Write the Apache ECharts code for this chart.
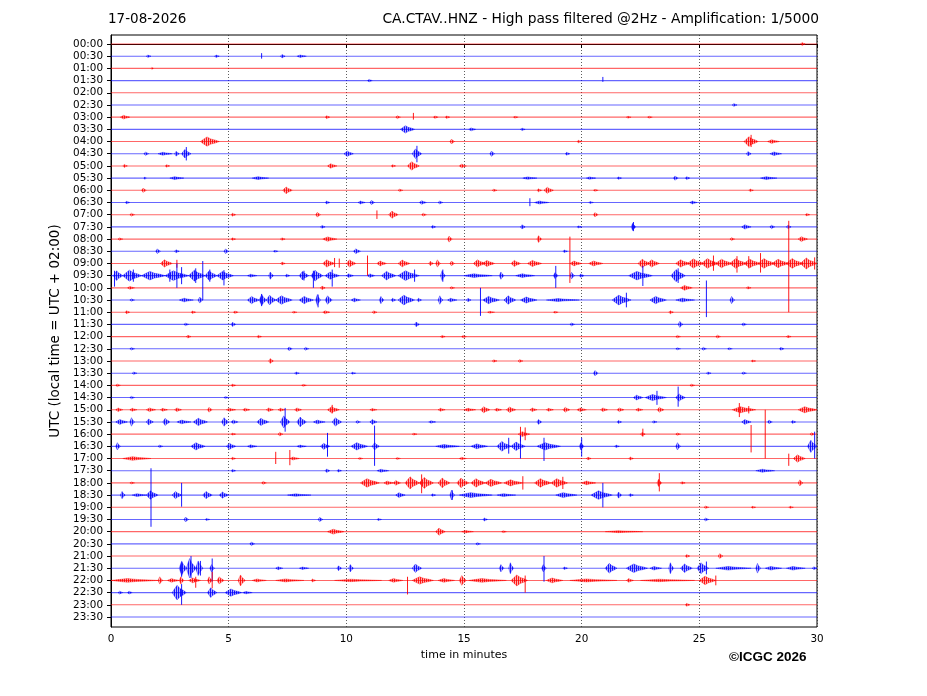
<!DOCTYPE html>
<html><head><meta charset="utf-8">
<script src="https://cdn.jsdelivr.net/npm/echarts@6/dist/echarts.min.js"></script>
<style>html,body{margin:0;padding:0;background:#fff}#c{width:927px;height:696px}</style>
</head><body><div id="c"></div><script>
const dateText = '17-08-2026';
const titleText = 'CA.CTAV..HNZ - High pass filtered @2Hz - Amplification: 1/5000';
const timeLabels = ['00:00','00:30','01:00','01:30','02:00','02:30','03:00','03:30','04:00','04:30','05:00','05:30',
  '06:00','06:30','07:00','07:30','08:00','08:30','09:00','09:30','10:00','10:30','11:00','11:30',
  '12:00','12:30','13:00','13:30','14:00','14:30','15:00','15:30','16:00','16:30','17:00','17:30',
  '18:00','18:30','19:00','19:30','20:00','20:30','21:00','21:30','22:00','22:30','23:00','23:30'];
const xTicks = [0, 5, 10, 15, 20, 25, 30];
const rowColors = ['#ff0000', '#0000ff'];

// bursts: [row, start minute, end minute, half amplitude (rows)]
const bursts = [
[0,29.3,29.5,0.12],
[1,1.5,1.7,0.1],[1,4.4,4.6,0.1],[1,7.2,7.4,0.15],[1,7.9,8.3,0.1],
[2,1.7,1.8,0.08],
[3,10.9,11.1,0.1],
[5,26.4,26.6,0.12],
[6,0.4,0.8,0.15],[6,9.1,9.3,0.12],[6,12.1,12.3,0.12],[6,13.7,13.9,0.1],[6,14.2,14.4,0.1],[6,17.1,17.3,0.08],[6,21.9,22.1,0.08],[6,22.8,23.0,0.08],
[7,12.3,12.9,0.3],[7,15.2,15.5,0.12],[7,17.4,17.6,0.1],
[8,3.8,4.6,0.38],[8,14.4,14.6,0.2],[8,19.8,20.0,0.1],[8,26.9,27.5,0.4],[8,27.9,28.4,0.15],
[9,1.4,1.6,0.15],[9,2.0,2.6,0.12],[9,2.7,2.9,0.2],[9,3.0,3.4,0.35],[9,9.9,10.3,0.22],[9,12.8,13.2,0.4],[9,16.1,16.3,0.22],[9,19.3,19.5,0.12],[9,27.0,27.2,0.18],[9,28.0,28.5,0.15],
[10,0.5,0.7,0.12],[10,2.3,2.5,0.1],[10,9.2,9.6,0.18],[10,11.9,12.1,0.1],[10,12.6,13.1,0.35],[10,14.8,15.1,0.15],
[11,1.4,1.5,0.1],[11,2.5,3.1,0.12],[11,6.0,6.7,0.12],[11,17.5,18.1,0.1],[11,20.2,20.6,0.1],[11,21.5,21.7,0.1],[11,23.9,24.1,0.18],[11,24.4,24.6,0.12],[11,27.6,28.3,0.12],
[12,1.3,1.5,0.18],[12,7.3,7.7,0.28],[12,12.2,12.4,0.1],[12,16.2,16.4,0.1],[12,18.1,18.3,0.12],[12,18.4,18.8,0.25],[12,20.5,20.7,0.08],[12,27.1,27.3,0.1],
[13,0.6,0.8,0.1],[13,9.1,9.3,0.12],[13,10.5,10.8,0.12],[13,11.0,11.2,0.18],[13,13.1,13.4,0.15],[13,13.9,14.1,0.12],[13,18.0,18.6,0.12],[13,20.3,20.5,0.08],[13,24.6,24.9,0.12],
[14,0.8,1.0,0.12],[14,5.1,5.3,0.12],[14,8.7,8.9,0.2],[14,11.8,12.2,0.3],[14,13.2,13.4,0.12],[14,20.5,20.7,0.18],[14,29.5,29.7,0.1],
[15,8.9,9.1,0.12],[15,13.6,13.8,0.12],[15,17.4,17.6,0.18],[15,19.8,20.0,0.08],[15,22.1,22.3,0.3],[15,26.8,27.2,0.18],[15,28.0,28.2,0.15],[15,28.7,28.9,0.15],
[16,0.3,0.5,0.1],[16,5.1,5.3,0.1],[16,7.2,7.4,0.1],[16,9.0,9.6,0.18],[16,14.3,14.5,0.25],[16,18.1,18.3,0.28],[16,26.3,26.5,0.12],[16,29.2,29.6,0.2],
[17,1.9,2.1,0.2],[17,2.7,2.9,0.12],[17,4.8,5.0,0.2],[17,6.9,7.1,0.08],[17,10.3,10.6,0.2],[17,19.2,19.4,0.1],
[18,2.1,2.6,0.3],[18,7.2,7.4,0.12],[18,9.0,9.5,0.3],[18,10.0,10.4,0.3],[18,11.3,11.7,0.2],[18,12.2,12.7,0.28],[18,13.5,13.7,0.18],[18,13.8,14.0,0.3],[18,14.4,14.6,0.2],[18,15.4,15.9,0.3],[18,15.8,16.3,0.25],[18,17.0,17.4,0.25],[18,17.7,18.3,0.25],[18,19.5,20.0,0.2],[18,20.3,20.9,0.2],[18,22.4,22.9,0.35],[18,22.8,23.3,0.3],
[18,24.0,24.6,0.3],[18,24.5,25.2,0.38],[18,25.1,25.8,0.4],[18,25.7,26.4,0.35],[18,26.3,27.0,0.4],[18,26.9,27.6,0.35],[18,27.5,28.2,0.4],[18,28.1,28.8,0.35],[18,28.7,29.4,0.4],[18,29.3,30.0,0.45],
[19,0.1,0.5,0.4],[19,0.5,1.3,0.45],[19,1.3,2.3,0.35],[19,2.3,3.3,0.4],[19,3.3,4.0,0.45],[19,4.0,4.5,0.4],[19,4.5,5.2,0.35],[19,5.8,6.2,0.12],[19,6.7,6.9,0.3],[19,7.4,7.6,0.12],[19,8.0,8.4,0.35],[19,8.5,9.0,0.45],[19,9.1,9.7,0.3],[19,10.0,10.3,0.15],[19,10.9,11.2,0.15],[19,11.5,12.1,0.35],[19,12.2,13.1,0.4],[19,14.0,14.2,0.4],[19,15.0,16.2,0.15],[19,16.5,16.7,0.3],[19,17.2,18.0,0.15],[19,18.8,19.0,0.25],[19,19.5,19.7,0.28],[19,19.9,20.1,0.15],[19,22.0,23.0,0.35],[19,23.8,24.4,0.5],
[20,0.7,1.0,0.12],[20,8.9,9.1,0.15],[20,14.4,14.6,0.1],[20,24.2,24.7,0.2],[20,27.0,27.2,0.1],
[21,0.8,1.0,0.1],[21,2.9,3.5,0.15],[21,3.7,3.9,0.25],[21,5.8,6.3,0.3],[21,6.3,6.6,0.45],[21,6.6,7.0,0.4],[21,7.0,7.7,0.35],[21,8.0,8.6,0.3],[21,8.7,8.9,0.45],[21,9.1,9.4,0.35],[21,10.2,10.6,0.15],[21,11.4,11.6,0.3],[21,11.9,12.1,0.15],[21,12.2,12.9,0.4],[21,13.0,13.2,0.15],[21,13.9,14.1,0.35],[21,14.3,14.7,0.15],[21,15.1,15.3,0.15],[21,15.8,16.5,0.3],[21,16.7,17.2,0.35],[21,17.4,18.1,0.25],[21,18.5,19.9,0.12],[21,21.3,22.1,0.4],[21,22.9,23.6,0.3],[21,24.0,24.8,0.15],[21,26.3,26.5,0.3],
[22,0.6,0.8,0.12],[22,3.4,3.6,0.1],[22,5.2,5.4,0.1],[22,7.7,7.9,0.08],[22,9.0,9.3,0.12],[22,11.1,11.3,0.12],[22,16.0,16.3,0.08],[22,18.8,19.0,0.08],[22,23.7,23.9,0.12],
[23,3.1,3.3,0.1],[23,5.1,5.3,0.18],[23,12.9,13.1,0.2],[23,19.5,19.7,0.12],[23,24.1,24.3,0.25],[23,26.8,27.0,0.12],
[24,3.2,3.4,0.12],[24,6.2,6.4,0.1],[24,14.0,14.2,0.1],[24,14.9,15.1,0.1],[24,24.0,24.2,0.1],[24,25.7,25.9,0.12],[24,28.7,28.9,0.1],
[25,0.8,1.0,0.1],[25,7.5,7.7,0.15],[25,8.2,8.4,0.12],[25,24.0,24.2,0.08],[25,25.1,25.3,0.12],[25,26.2,26.4,0.08],[25,28.4,28.6,0.12],
[26,6.7,6.9,0.2],[26,16.2,16.4,0.1],[26,17.3,17.5,0.12],[26,27.2,27.4,0.08],
[27,0.9,1.1,0.1],[27,7.8,8.0,0.1],[27,10.2,10.4,0.08],[27,20.5,20.7,0.22],[27,25.3,25.5,0.1],[27,26.8,27.0,0.1],
[28,0.2,0.4,0.1],[28,5.1,5.3,0.1],[28,8.1,8.3,0.08],[28,24.6,24.8,0.1],
[29,0.8,1.0,0.1],[29,4.8,5.0,0.08],[29,22.2,22.6,0.2],[29,22.7,23.6,0.25],[29,24.0,24.4,0.3],
[30,0.2,0.5,0.15],[30,0.8,1.1,0.12],[30,1.5,1.9,0.15],[30,2.1,2.4,0.12],[30,2.7,3.0,0.15],[30,4.1,4.3,0.2],[30,4.9,5.3,0.12],[30,5.6,5.9,0.12],[30,6.6,6.9,0.15],[30,7.1,7.4,0.12],[30,7.8,8.1,0.15],[30,9.2,9.7,0.25],[30,11.0,11.3,0.1],[30,13.9,14.2,0.12],[30,15.0,15.5,0.12],[30,15.7,16.1,0.25],[30,16.3,16.6,0.12],[30,16.8,17.2,0.22],[30,17.8,18.1,0.15],[30,18.5,18.8,0.12],[30,19.2,19.5,0.2],[30,19.8,20.2,0.15],[30,20.8,21.1,0.15],[30,21.5,21.8,0.15],[30,22.3,22.6,0.12],[30,23.2,23.5,0.2],[30,26.4,27.4,0.25],[30,29.2,30.0,0.25],
[31,0.2,0.7,0.2],[31,0.8,1.0,0.35],[31,1.5,1.8,0.25],[31,2.2,2.5,0.3],[31,2.8,3.4,0.15],[31,3.5,4.1,0.3],[31,4.7,5.0,0.35],[31,5.1,5.4,0.15],[31,6.2,6.7,0.3],[31,7.2,7.6,0.5],[31,7.9,8.3,0.4],[31,8.6,9.1,0.15],[31,9.4,9.8,0.35],[31,10.4,10.6,0.12],[31,11.0,11.3,0.2],[31,13.5,13.8,0.1],[31,18.1,18.3,0.2],[31,21.5,21.7,0.12],[31,23.0,23.2,0.1],[31,26.8,27.2,0.2],[31,27.9,28.1,0.15],[31,28.9,29.1,0.12],
[32,5.1,5.3,0.08],[32,7.1,7.3,0.15],[32,12.8,13.0,0.08],[32,17.3,17.8,0.2],[32,22.5,22.7,0.15],[32,24.0,24.2,0.1],[32,29.7,29.9,0.12],
[33,0.2,0.4,0.3],[33,2.0,2.2,0.1],[33,3.4,4.0,0.3],[33,4.9,5.3,0.25],[33,5.8,6.2,0.12],[33,7.9,8.3,0.1],[33,8.9,9.3,0.25],[33,10.2,10.9,0.3],[33,11.1,11.4,0.3],[33,13.8,14.8,0.15],[33,15.3,16.0,0.2],[33,16.4,17.0,0.4],[33,17.0,17.6,0.35],[33,18.1,19.1,0.3],[33,19.9,20.1,0.3],[33,21.4,21.6,0.1],[33,24.0,24.2,0.3],[33,29.6,30.0,0.5],
[34,0.5,1.7,0.15],[34,5.1,5.3,0.1],[34,7.6,8.0,0.12],[34,10.5,10.7,0.08],[34,12.1,12.3,0.08],[34,14.8,15.1,0.1],[34,20.2,20.4,0.12],[34,22.0,22.2,0.12],[34,29.0,29.5,0.3],
[35,5.1,5.3,0.1],[35,9.1,9.3,0.15],[35,9.6,9.8,0.1],[35,11.3,11.8,0.12],[35,27.4,28.2,0.12],
[36,0.8,1.0,0.08],[36,6.4,6.6,0.12],[36,10.6,11.4,0.35],[36,11.6,12.0,0.15],[36,12.0,12.3,0.2],[36,12.5,13.1,0.5],[36,13.1,13.7,0.45],[36,13.9,14.4,0.4],[36,14.7,15.2,0.4],[36,15.3,15.9,0.35],[36,15.9,16.6,0.3],[36,16.7,17.5,0.25],[36,18.0,18.7,0.35],[36,18.7,19.4,0.35],[36,20.0,20.6,0.15],[36,23.2,23.4,0.3],[36,24.2,24.4,0.1],[36,29.2,29.4,0.25],
[37,0.4,0.6,0.3],[37,0.9,1.5,0.12],[37,1.5,2.0,0.35],[37,2.6,3.0,0.3],[37,3.9,4.3,0.3],[37,4.6,5.0,0.25],[37,7.5,8.5,0.1],[37,12.1,12.5,0.2],[37,13.6,13.8,0.1],[37,14.4,14.6,0.4],[37,14.8,16.2,0.2],[37,16.4,17.2,0.12],[37,18.9,19.8,0.2],[37,20.4,21.3,0.35],[37,21.5,21.7,0.25],[37,22.0,22.2,0.12],
[38,25.2,25.4,0.1],[38,27.2,27.4,0.08],[38,28.8,29.0,0.08],
[39,3.1,3.3,0.2],[39,4.0,4.2,0.08],[39,8.8,9.0,0.18],[39,11.3,11.5,0.08],[39,15.8,16.0,0.12],[39,25.2,25.4,0.12],
[40,9.2,9.9,0.2],[40,13.8,14.2,0.3],[40,14.9,15.4,0.1],[40,16.6,16.8,0.08],[40,21.0,22.6,0.08],
[41,5.9,6.1,0.15],[41,15.5,15.7,0.1],
[42,24.4,24.6,0.12],[42,25.8,26.0,0.2],
[43,2.9,3.2,0.6],[43,3.2,3.6,0.8],[43,3.6,3.9,0.6],[43,4.2,4.4,0.3],[43,7.0,7.3,0.12],[43,8.0,8.4,0.1],[43,9.6,9.8,0.2],[43,10.1,10.3,0.3],[43,12.8,13.2,0.35],[43,16.5,16.7,0.3],[43,16.9,17.1,0.45],[43,18.3,18.5,0.3],[43,19.2,19.4,0.1],[43,21.0,21.5,0.4],[43,21.9,22.8,0.35],[43,22.9,23.4,0.15],[43,23.7,23.9,0.45],[43,24.2,24.7,0.35],[43,24.9,25.4,0.45],[43,25.7,27.2,0.15],[43,27.4,27.6,0.4],[43,27.8,28.5,0.15],[43,28.7,29.5,0.15],[43,29.8,30.0,0.12],
[44,0.0,2.0,0.15],[44,2.0,2.2,0.3],[44,2.4,2.9,0.15],[44,2.9,3.1,0.3],[44,3.3,3.8,0.2],[44,4.1,4.3,0.3],[44,4.5,4.8,0.3],[44,5.4,5.7,0.45],[44,6.0,6.6,0.12],[44,7.0,8.2,0.12],[44,8.5,8.7,0.12],[44,9.5,11.5,0.1],[44,11.8,12.4,0.15],[44,12.8,13.7,0.3],[44,13.9,14.6,0.15],[44,14.8,15.1,0.4],[44,15.2,16.8,0.15],[44,17.0,17.7,0.45],[44,18.5,19.2,0.2],[44,19.5,21.5,0.12],[44,21.9,22.2,0.15],[44,22.5,24.8,0.1],[44,25.0,25.7,0.35],
[45,0.3,0.5,0.12],[45,0.7,0.9,0.12],[45,2.6,3.2,0.6],[45,4.1,4.5,0.4],[45,4.85,5.55,0.3],[45,5.6,6.0,0.1],
[46,24.4,24.6,0.12]
];

// spikes: [row, minute, extent up (rows), extent down (rows)]
const spikes = [
[1,6.4,0.25,0.2],
[3,20.9,0.3,0.1],
[6,12.85,0.35,0.2],
[8,27.2,0.55,0.45],
[9,3.2,0.55,0.55],[9,13.0,0.65,0.7],
[13,17.8,0.35,0.3],
[14,11.3,0.35,0.35],
[15,22.2,0.4,0.35],
[18,2.8,0.3,0.35],[18,9.5,0.45,0.3],[18,9.7,0.4,0.35],[18,10.9,0.65,1.0],[18,19.5,2.2,1.6],[18,25.6,0.65,0.6],[18,26.6,0.6,0.75],[18,27.1,0.6,0.4],[18,27.6,0.85,0.75],[18,28.8,3.5,4.0],[18,29.9,0.5,0.5],
[19,0.15,0.4,0.9],[19,0.95,0.5,0.5],[19,2.5,0.5,0.5],[19,2.8,1.0,1.0],[19,3.0,0.7,0.7],[19,3.6,0.6,0.6],[19,3.9,1.2,2.0],[19,4.2,0.5,0.5],[19,4.8,0.45,0.8],[19,8.2,0.4,0.4],[19,8.6,0.4,1.0],[19,9.4,0.5,0.9],[19,12.9,0.5,0.5],[19,14.1,0.5,0.5],[19,18.9,0.8,1.0],[19,22.6,0.8,0.85],[19,24.1,0.6,0.6],
[21,6.4,0.5,0.5],[21,8.8,0.45,0.6],[21,15.7,1.0,1.3],[21,21.9,0.6,0.6],[21,25.3,1.6,1.4],
[29,23.2,0.55,0.6],[29,24.1,0.9,0.75],
[30,9.4,0.4,0.3],[30,26.7,0.55,0.6],[30,27.1,0.3,0.3],
[31,7.4,1.15,0.8],
[32,17.4,0.6,0.6],[32,17.6,0.55,0.5],[32,22.6,0.45,0.2],[32,27.2,0.75,1.5],[32,27.8,2.0,2.0],
[33,9.2,1.1,0.85],[33,11.2,1.7,1.6],[33,16.9,0.7,0.6],[33,17.4,0.9,1.0],[33,18.4,0.7,1.2],[33,20.0,0.7,0.85],[33,29.9,1.2,1.0],
[34,7.0,0.55,0.45],[34,7.6,0.7,0.55],[34,28.8,0.4,0.6],
[36,13.2,0.7,0.85],[36,17.5,0.55,0.55],[36,19.2,0.5,0.5],[36,23.3,0.8,0.7],
[37,1.7,2.2,2.6],[37,3.0,1.0,0.95],[37,14.5,0.4,0.4],[37,20.9,1.0,1.0],
[43,3.0,0.5,0.7],[43,3.4,1.0,0.8],[43,3.8,0.6,0.6],[43,4.3,0.8,1.1],[43,18.4,1.0,1.1],[43,25.3,0.55,0.5],
[44,3.6,0.3,0.6],[44,4.3,0.7,0.65],[44,12.6,0.3,1.15],[44,17.6,0.4,1.0],[44,25.7,0.4,0.4],
[45,3.0,0.7,1.0]
];

const rows = timeLabels.map((_, i) => [i]);
const rowIdx = timeLabels.map((_, i) => i);
function colorOf(r) { return rowColors[r % 2]; }

// vertical hatch pattern (visual texture of dense waveform oscillation)
function hatch(color) {
  const cv = document.createElement('canvas');
  cv.width = 2; cv.height = 2;
  const g = cv.getContext('2d');
  g.globalAlpha = 1; g.fillStyle = color; g.fillRect(0, 0, 1, 2);
  g.globalAlpha = 0.35; g.fillRect(1, 0, 1, 2);
  return {image: cv, repeat: 'repeat'};
}
const hatchFills = rowColors.map(hatch);

const envShape = [[0, 0], [0.15, 0.45], [0.35, 1], [0.55, 0.55], [0.8, 0.3], [1, 0]];

const chart = echarts.init(document.getElementById('c'), null, {renderer: 'canvas'});
chart.setOption({
  animation: false,
  backgroundColor: '#fff',
  grid: {left: 111, right: 110, top: 35, bottom: 69, show: true, borderColor: '#000', borderWidth: 1, backgroundColor: 'transparent'},
  xAxis: {
    type: 'value', min: 0, max: 30, interval: 5,
    name: 'time in minutes', nameLocation: 'middle', nameGap: 23,
    nameTextStyle: {fontFamily: 'DejaVu Sans', fontSize: 11, color: '#000'},
    axisLine: {show: true, lineStyle: {color: '#000', width: 1}},
    axisTick: {show: true, inside: false, length: 4, lineStyle: {color: '#000'}},
    axisLabel: {fontFamily: 'DejaVu Sans', fontSize: 10.4, color: '#000', margin: 7, customValues: xTicks},
    splitLine: {show: true, lineStyle: {color: '#333', width: 0.8, type: [1, 2]}}
  },
  yAxis: {
    type: 'value', inverse: true, min: -0.74, max: 47.82,
    name: 'UTC (local time = UTC + 02:00)', nameLocation: 'middle', nameGap: 47, nameRotate: 90,
    nameTextStyle: {fontFamily: 'DejaVu Sans', fontSize: 13.5, color: '#000'},
    axisLine: {show: true, lineStyle: {color: '#000', width: 1}},
    axisTick: {show: true, inside: false, length: 4, lineStyle: {color: '#000'}, customValues: rowIdx},
    axisLabel: {fontFamily: 'DejaVu Sans', fontSize: 10.4, color: '#000', margin: 8,
      customValues: rowIdx, formatter: v => timeLabels[Math.round(v)] || ''},
    splitLine: {show: false}
  },
  graphic: [
    {type: 'text', left: 108, top: 12, style: {text: dateText, font: '13.5px "DejaVu Sans"', fill: '#000'}},
    {type: 'text', right: 108, top: 12, style: {text: titleText, font: '13.8px "DejaVu Sans"', fill: '#000'}},
    {type: 'text', left: 729, top: 650, style: {text: '\u00A9ICGC 2026', font: 'bold 13.5px "Liberation Sans"', fill: '#000'}}
  ],
  series: [
    {
      type: 'custom', clip: true, data: rows,
      renderItem: (params, api) => {
        const r = api.value(0);
        const a = api.coord([0, r]), b = api.coord([30, r]);
        return {type: 'line', shape: {x1: a[0], y1: a[1], x2: b[0], y2: b[1]},
          style: {stroke: colorOf(r), lineWidth: 1.1, opacity: 0.6}};
      }
    },
    {
      type: 'custom', clip: true, data: bursts,
      renderItem: (params, api) => {
        const r = api.value(0), t0 = api.value(1), t1 = api.value(2), amp = api.value(3);
        const w = t1 - t0;
        const top = envShape.map(p => api.coord([t0 + p[0] * w, r - p[1] * amp]));
        const bot = envShape.slice(1, -1).reverse().map(p => api.coord([t0 + p[0] * w, r + p[1] * amp]));
        return {type: 'polygon', shape: {points: top.concat(bot)},
          style: {fill: hatchFills[r % 2], stroke: colorOf(r), lineWidth: 0.4, opacity: 0.9}};
      }
    },
    {
      type: 'custom', clip: true, data: spikes,
      renderItem: (params, api) => {
        const r = api.value(0), t = api.value(1), up = api.value(2), dn = api.value(3);
        const a = api.coord([t, r - up]), b = api.coord([t, r + dn]);
        return {type: 'line', shape: {x1: a[0], y1: a[1], x2: b[0], y2: b[1]},
          style: {stroke: colorOf(r), lineWidth: 1, opacity: 0.9}};
      }
    }
  ]
});
</script></body></html>
